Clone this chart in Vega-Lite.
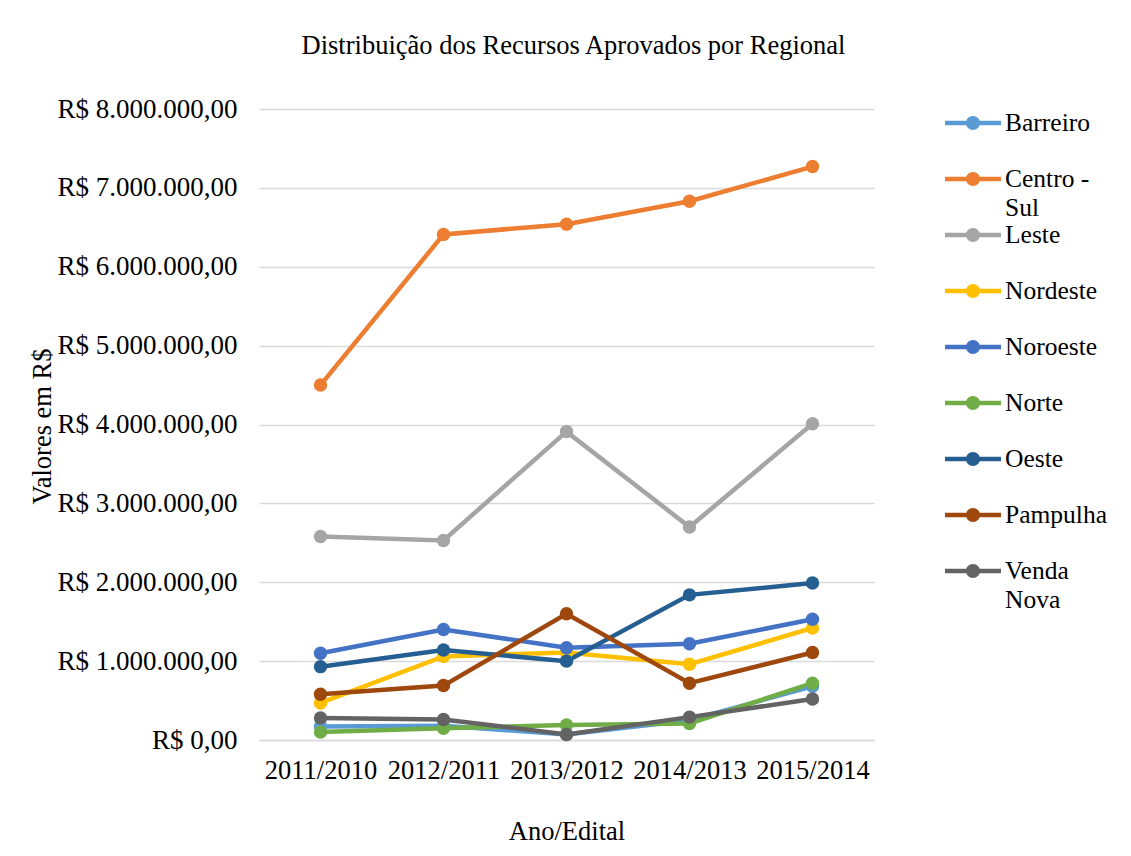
{
  "$schema": "https://vega.github.io/schema/vega-lite/v6.json",
  "width": 615,
  "height": 631,
  "autosize": {"type": "none"},
  "padding": {"left": 259, "top": 109, "right": 257, "bottom": 116},
  "background": "white",
  "title": {
    "text": "Distribuição dos Recursos Aprovados por Regional",
    "font": "Liberation Serif",
    "fontSize": 26.5,
    "fontWeight": "normal",
    "color": "#000000",
    "anchor": "middle",
    "offset": 36,
    "dx": 7
  },
  "data": {
    "values": [
      {"regional": "Barreiro", "ano": "2011/2010", "valor": 170000},
      {"regional": "Barreiro", "ano": "2012/2011", "valor": 180000},
      {"regional": "Barreiro", "ano": "2013/2012", "valor": 70000},
      {"regional": "Barreiro", "ano": "2014/2013", "valor": 250000},
      {"regional": "Barreiro", "ano": "2015/2014", "valor": 680000},
      {"regional": "Centro - Sul", "ano": "2011/2010", "valor": 4500000},
      {"regional": "Centro - Sul", "ano": "2012/2011", "valor": 6410000},
      {"regional": "Centro - Sul", "ano": "2013/2012", "valor": 6540000},
      {"regional": "Centro - Sul", "ano": "2014/2013", "valor": 6830000},
      {"regional": "Centro - Sul", "ano": "2015/2014", "valor": 7270000},
      {"regional": "Leste", "ano": "2011/2010", "valor": 2580000},
      {"regional": "Leste", "ano": "2012/2011", "valor": 2530000},
      {"regional": "Leste", "ano": "2013/2012", "valor": 3910000},
      {"regional": "Leste", "ano": "2014/2013", "valor": 2700000},
      {"regional": "Leste", "ano": "2015/2014", "valor": 4010000},
      {"regional": "Nordeste", "ano": "2011/2010", "valor": 470000},
      {"regional": "Nordeste", "ano": "2012/2011", "valor": 1060000},
      {"regional": "Nordeste", "ano": "2013/2012", "valor": 1110000},
      {"regional": "Nordeste", "ano": "2014/2013", "valor": 960000},
      {"regional": "Nordeste", "ano": "2015/2014", "valor": 1420000},
      {"regional": "Noroeste", "ano": "2011/2010", "valor": 1100000},
      {"regional": "Noroeste", "ano": "2012/2011", "valor": 1400000},
      {"regional": "Noroeste", "ano": "2013/2012", "valor": 1170000},
      {"regional": "Noroeste", "ano": "2014/2013", "valor": 1220000},
      {"regional": "Noroeste", "ano": "2015/2014", "valor": 1530000},
      {"regional": "Norte", "ano": "2011/2010", "valor": 100000},
      {"regional": "Norte", "ano": "2012/2011", "valor": 150000},
      {"regional": "Norte", "ano": "2013/2012", "valor": 190000},
      {"regional": "Norte", "ano": "2014/2013", "valor": 210000},
      {"regional": "Norte", "ano": "2015/2014", "valor": 720000},
      {"regional": "Oeste", "ano": "2011/2010", "valor": 930000},
      {"regional": "Oeste", "ano": "2012/2011", "valor": 1140000},
      {"regional": "Oeste", "ano": "2013/2012", "valor": 1000000},
      {"regional": "Oeste", "ano": "2014/2013", "valor": 1840000},
      {"regional": "Oeste", "ano": "2015/2014", "valor": 1990000},
      {"regional": "Pampulha", "ano": "2011/2010", "valor": 580000},
      {"regional": "Pampulha", "ano": "2012/2011", "valor": 690000},
      {"regional": "Pampulha", "ano": "2013/2012", "valor": 1600000},
      {"regional": "Pampulha", "ano": "2014/2013", "valor": 720000},
      {"regional": "Pampulha", "ano": "2015/2014", "valor": 1110000},
      {"regional": "Venda Nova", "ano": "2011/2010", "valor": 280000},
      {"regional": "Venda Nova", "ano": "2012/2011", "valor": 260000},
      {"regional": "Venda Nova", "ano": "2013/2012", "valor": 70000},
      {"regional": "Venda Nova", "ano": "2014/2013", "valor": 290000},
      {"regional": "Venda Nova", "ano": "2015/2014", "valor": 520000}
    ]
  },
  "mark": {"type": "line", "strokeWidth": 4.5, "point": {"filled": true, "size": 180, "opacity": 1}},
  "encoding": {
    "x": {
      "field": "ano",
      "type": "ordinal",
      "sort": null,
      "scale": {"type": "point", "padding": 0.5},
      "axis": {
        "title": "Ano/Edital",
        "titleFont": "Liberation Serif",
        "titleFontSize": 26.5,
        "titleFontWeight": "normal",
        "titleColor": "#000000",
        "titleY": 91,
        "titleBaseline": "middle",
        "labelFont": "Liberation Serif",
        "labelFontSize": 26.5,
        "labelColor": "#000000",
        "labelAngle": 0,
        "labelPadding": 17.5,
        "ticks": false,
        "domain": true,
        "domainColor": "#D9D9D9",
        "domainWidth": 1.3,
        "grid": false
      }
    },
    "y": {
      "field": "valor",
      "type": "quantitative",
      "scale": {"domain": [0, 8000000], "nice": false},
      "axis": {
        "title": "Valores em R$",
        "titleFont": "Liberation Serif",
        "titleFontSize": 26.5,
        "titleFontWeight": "normal",
        "titleColor": "#000000",
        "titleX": -217,
        "titleY": 317,
        "titleAlign": "center",
        "titleBaseline": "middle",
        "values": [0, 1000000, 2000000, 3000000, 4000000, 5000000, 6000000, 7000000, 8000000],
        "labelExpr": "'R$ ' + (datum.value == 0 ? '0,00' : format(datum.value / 1000000, 'd') + '.000.000,00')",
        "labelFont": "Liberation Serif",
        "labelFontSize": 27,
        "labelLimit": 300,
        "labelColor": "#000000",
        "labelPadding": 22,
        "ticks": false,
        "domain": false,
        "grid": true,
        "gridColor": "#D9D9D9",
        "gridWidth": 1.3
      }
    },
    "color": {
      "field": "regional",
      "type": "nominal",
      "scale": {
        "domain": ["Barreiro", "Centro - Sul", "Leste", "Nordeste", "Noroeste", "Norte", "Oeste", "Pampulha", "Venda Nova"],
        "range": ["#5B9BD5", "#ED7D31", "#A5A5A5", "#FFC000", "#4472C4", "#70AD47", "#255E91", "#9E480E", "#636363"]
      },
      "legend": {
        "title": null,
        "orient": "none",
        "legendX": 686,
        "legendY": -14,
        "symbolType": "M-1,-0.08L1,-0.08L1,0.08L-1,0.08Z M0.25,0A0.25,0.25,0,1,1,-0.25,0A0.25,0.25,0,1,1,0.25,0Z M0,-0.5L0,0.99",
        "symbolSize": 3136,
        "symbolStrokeWidth": 0,
        "labelFont": "Liberation Serif",
        "labelFontSize": 25.5,
        "labelColor": "#000000",
        "labelOffset": 4,
        "labelLimit": 200,
        "labelExpr": "datum.label == 'Centro - Sul' ? ['Sul', 'Centro -'] : datum.label == 'Venda Nova' ? ['Nova', 'Venda'] : datum.label",
        "rowPadding": 0,
        "encode": {
          "symbols": {
            "update": {
              "fill": {"scale": "color", "field": "value"},
              "stroke": {"value": "transparent"},
              "opacity": {"value": 1}
            }
          },
          "labels": {
            "update": {
              "lineHeight": {"value": -28.5},
              "dy": {"signal": "datum.value == 'Centro - Sul' || datum.value == 'Venda Nova' ? 28.5 : 0"}
            }
          }
        }
      }
    }
  },
  "config": {"view": {"stroke": null}}
}
